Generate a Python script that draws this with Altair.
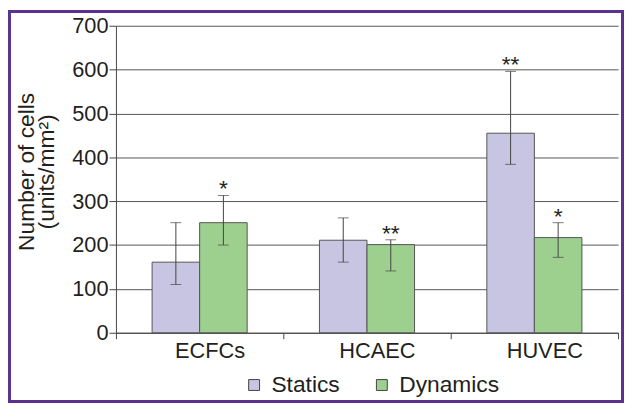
import altair as alt
import pandas as pd

categories = ["ECFCs", "HCAEC", "HUVEC"]
groups = ["Statics", "Dynamics"]
statics_mean = [161, 211, 455]
statics_low = [110, 161, 384]
statics_high = [251, 262, 596]
dynamics_mean = [251, 201, 217]
dynamics_low = [200, 141, 172]
dynamics_high = [313, 212, 251]
statics_stars = ["", "", "**"]
dynamics_stars = ["*", "**", "*"]
colors = ["#c7c5e2", "#9dcf8f"]

rows = []
for i, c in enumerate(categories):
    rows.append(dict(cat=c, grp="Statics", mean=statics_mean[i], low=statics_low[i],
                     high=statics_high[i], star=statics_stars[i]))
    rows.append(dict(cat=c, grp="Dynamics", mean=dynamics_mean[i], low=dynamics_low[i],
                     high=dynamics_high[i], star=dynamics_stars[i]))
df = pd.DataFrame(rows)

W, H = 507, 310
PL, PT, PR, PB = 109, 16, 6, 71
FONT = "Liberation Sans"
TXT = "#231f20"
FS = 23
band = W / 3
bar_w = 48
po = (band / bar_w - 2) / 2

x_enc = alt.X("cat:N", sort=categories,
              scale=alt.Scale(paddingInner=0, paddingOuter=0),
              axis=alt.Axis(title=None, tickBand="extent", tickSize=6, labelPadding=2,
                            labelOffset=10,
                            labelFontSize=22, labelFont=FONT, labelColor=TXT,
                            domainColor="#444", tickColor="#444", labelAngle=0, grid=False))
xoff = alt.XOffset("grp:N", sort=groups,
                   scale=alt.Scale(paddingOuter=po, paddingInner=0))
y_scale = alt.Scale(domain=[0, 700], nice=False)

base = alt.Chart(df)

bars = base.mark_bar(stroke="#555", strokeWidth=1).encode(
    x=x_enc,
    xOffset=xoff,
    y=alt.Y("mean:Q", scale=y_scale,
            axis=alt.Axis(values=list(range(0, 701, 100)), title=["Number of cells", "(units/mm²)"],
                          titleFontSize=FS, titleFont=FONT, titleFontWeight="normal",
                          titleColor=TXT, titlePadding=13, titleLineHeight=21,
                          titleY=H / 2 - 8,
                          labelFontSize=22, labelFont=FONT, labelColor=TXT,
                          tickSize=7, labelPadding=1, tickColor="#444", domainColor="#444",
                          gridColor="#555", gridWidth=1)),
    color=alt.Color("grp:N", sort=groups,
                    scale=alt.Scale(domain=groups, range=colors),
                    legend=alt.Legend(title=None, orient="none", legendX=128, legendY=351,
                                      direction="horizontal", symbolType="square",
                                      symbolSize=121, symbolStrokeColor="#444",
                                      symbolStrokeWidth=1, symbolOpacity=1,
                                      labelFontSize=FS, labelFont=FONT, labelColor=TXT,
                                      labelOffset=6, columnPadding=30, padding=0)),
)

rules = base.mark_rule(color="#444", strokeWidth=1).encode(
    x=alt.X("cat:N", sort=categories), xOffset=xoff,
    y=alt.Y("low:Q", scale=y_scale), y2="high:Q")

caps_lo = base.mark_tick(color="#444", thickness=1, size=11).encode(
    x=alt.X("cat:N", sort=categories), xOffset=xoff, y=alt.Y("low:Q", scale=y_scale))
caps_hi = base.mark_tick(color="#444", thickness=1, size=11).encode(
    x=alt.X("cat:N", sort=categories), xOffset=xoff, y=alt.Y("high:Q", scale=y_scale))

stars = base.mark_text(fontSize=23, font=FONT, color=TXT, baseline="alphabetic", dy=1).encode(
    x=alt.X("cat:N", sort=categories), xOffset=xoff,
    y=alt.Y("high:Q", scale=y_scale), text="star:N")

frame = alt.Chart(alt.Data(values=[{}])).mark_rect(
    filled=False, stroke="#5c3290", strokeWidth=3).encode(
    x=alt.value(-PL + 1.5), x2=alt.value(W + PR - 1.5),
    y=alt.value(-PT + 1.5), y2=alt.value(H + PB - 1.5))

chart = alt.layer(bars, rules, caps_lo, caps_hi, stars, frame).properties(
    width=W, height=H,
    autosize=alt.AutoSizeParams(type="none"),
    padding={"left": PL, "top": PT, "right": PR, "bottom": PB},
).configure_view(stroke=None)

chart.save("out.html", embed_options={"renderer": "svg", "actions": False})
